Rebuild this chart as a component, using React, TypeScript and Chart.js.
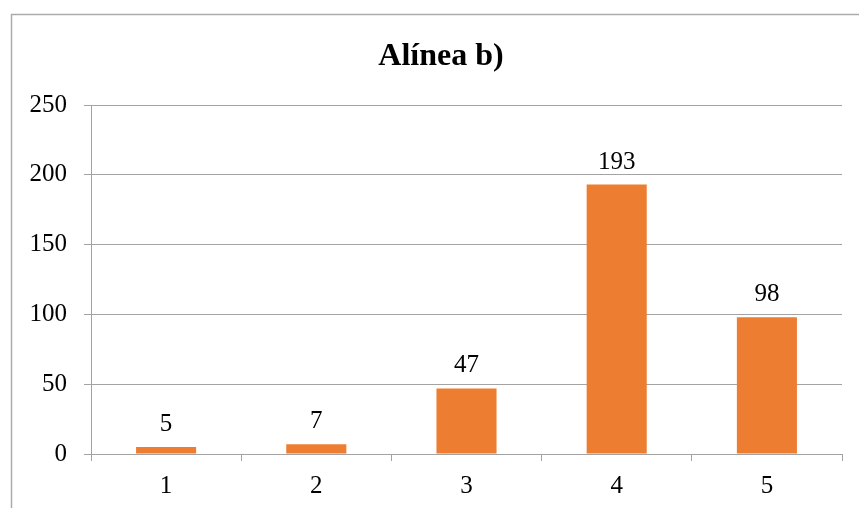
import React, { useEffect, useRef } from "react";
import { Chart, registerables } from "chart.js";

Chart.register(...registerables);

const categories = ["1", "2", "3", "4", "5"];
const counts = [5, 7, 47, 193, 98];
const yTicks = [0, 50, 100, 150, 200, 250];
const chartTitle = "Alínea b)";

const SERIF = "'Liberation Serif', 'Times New Roman', serif";
const GRID = "#a3a3a3";
const BAR = "#ED7D31";

// Frame around the chart and the bold heading
const framePlugin = {
  id: "frame",
  beforeDraw(chart: Chart) {
    const ctx = chart.ctx;
    ctx.save();
    ctx.fillStyle = "#ffffff";
    ctx.fillRect(0, 0, chart.width, chart.height);
    ctx.strokeStyle = "#ababab";
    ctx.lineWidth = 1.5;
    ctx.strokeRect(11.5, 14.5, chart.width + 20, chart.height + 20);
    ctx.restore();
  },
  afterDraw(chart: Chart) {
    const ctx = chart.ctx;
    ctx.save();
    ctx.fillStyle = "#000000";
    ctx.font = `bold 32px ${SERIF}`;
    ctx.textAlign = "center";
    ctx.textBaseline = "alphabetic";
    ctx.fillText(chartTitle, 441, 65);
    ctx.restore();
  },
};

// Value written above every bar
const valueLabels = {
  id: "valueLabels",
  afterDatasetsDraw(chart: Chart) {
    const ctx = chart.ctx;
    const meta = chart.getDatasetMeta(0);
    const data = chart.data.datasets[0].data as number[];
    ctx.save();
    ctx.fillStyle = "#000000";
    ctx.font = `25px ${SERIF}`;
    ctx.textAlign = "center";
    ctx.textBaseline = "alphabetic";
    meta.data.forEach((bar: any, i: number) => {
      ctx.fillText(String(data[i]), bar.x, bar.y - 16);
    });
    ctx.restore();
  },
};

export default function App() {
  const canvasRef = useRef<HTMLCanvasElement | null>(null);

  useEffect(() => {
    const canvas = canvasRef.current;
    if (!canvas) return;
    const chart = new Chart(canvas, {
      type: "bar",
      data: {
        labels: categories,
        datasets: [
          {
            data: counts,
            backgroundColor: BAR,
            borderWidth: 0,
            barPercentage: 0.4,
            categoryPercentage: 1,
          },
        ],
      },
      options: {
        responsive: false,
        animation: false,
        devicePixelRatio: 1,
        layout: { padding: { top: 105, right: 17, bottom: 0, left: 0 } },
        plugins: {
          legend: { display: false },
          title: { display: false },
          tooltip: { enabled: false },
        },
        scales: {
          x: {
            afterFit(scale: any) {
              scale.height = 54;
            },
            grid: {
              drawOnChartArea: false,
              drawTicks: true,
              tickLength: 7,
              color: GRID,
              offset: true,
            },
            border: { display: true, color: GRID, width: 1 },
            ticks: {
              color: "#000000",
              font: { family: SERIF, size: 25 },
              padding: 10,
              maxRotation: 0,
            },
          },
          y: {
            min: 0,
            max: 250,
            afterFit(scale: any) {
              scale.width = 91;
            },
            afterBuildTicks(scale: any) {
              scale.ticks = yTicks.map((v) => ({ value: v }));
            },
            grid: {
              color: GRID,
              drawTicks: true,
              tickLength: 7,
            },
            border: { display: true, color: GRID, width: 1 },
            ticks: {
              color: "#000000",
              font: { family: SERIF, size: 25 },
              padding: 17,
            },
          },
        },
      },
      plugins: [framePlugin, valueLabels],
    });
    return () => chart.destroy();
  }, []);

  return (
    <div style={{ position: "fixed", left: 0, top: 0, width: 859, height: 508, background: "#fff" }}>
      <canvas ref={canvasRef} width={859} height={508} style={{ display: "block" }} />
    </div>
  );
}
